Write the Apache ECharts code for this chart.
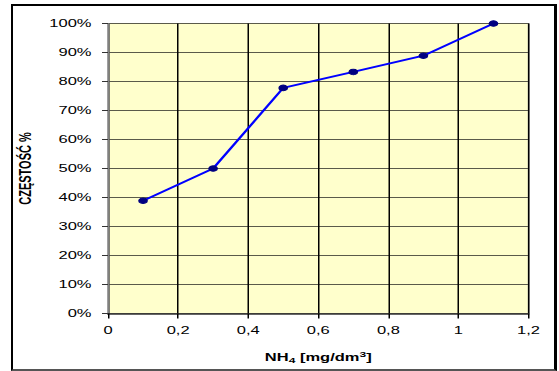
<!DOCTYPE html>
<html>
<head>
<meta charset="utf-8">
<script src="https://cdn.jsdelivr.net/npm/echarts@6/dist/echarts.min.js"></script>
<style>
  html, body { margin: 0; padding: 0; background: #fff; overflow: hidden; }
  #frame {
    position: absolute; left: 11px; top: 4px; width: 541px; height: 363px;
    border-left: 2px solid #000; border-top: 2px solid #000;
    border-right: 3px solid #000; border-bottom: 2px solid #555;
  }
  /* chart laid out narrow, then widened 1.5x horizontally */
  #chart {
    position: absolute; left: 0; top: 0; width: 372.67px; height: 371px;
    transform-origin: 0 0; transform: scaleX(1.5);
  }
</style>
</head>
<body>
<div id="frame"></div>
<div id="chart"></div>
<script>
// NH4 concentration (mg/dm3) and cumulative frequency (%)
const nh4 = [0.1, 0.3, 0.5, 0.7, 0.9, 1.1];
const frequency = [38.9, 50.0, 77.8, 83.3, 88.9, 100.0];

const chart = echarts.init(document.getElementById('chart'), null, { renderer: 'svg' });
const font = 'Liberation Sans, Arial, sans-serif';

chart.setOption({
  animation: false,
  grid: {
    left: 72, right: 20.67, top: 23.5, bottom: 57.5,
    show: true,
    backgroundColor: '#FFFFCC',
    borderColor: '#808080',
    borderWidth: 1
  },
  xAxis: {
    type: 'value',
    min: 0, max: 1.2, interval: 0.2,
    axisLine: { show: true, onZero: false, lineStyle: { color: '#333', width: 1.5 } },
    axisTick: { show: true, inside: false, length: 5, lineStyle: { color: '#000' } },
    axisLabel: {
      margin: 11, color: '#000', fontFamily: font, fontSize: 11,
      formatter: v => String(Math.round(v * 10) / 10).replace('.', ',')
    },
    splitLine: { show: true, lineStyle: { color: '#000', width: 1 } },
    name: '{b|NH}{s|4}{b| [mg/dm}{p|3}{b|]}',
    nameLocation: 'middle',
    nameGap: 37,
    nameTextStyle: {
      rich: {
        b: { fontFamily: font, fontWeight: 'bold', fontSize: 11, color: '#000' },
        s: { fontFamily: font, fontWeight: 'bold', fontSize: 8, color: '#000', verticalAlign: 'bottom', padding: [6, 0, 0, 0] },
        p: { fontFamily: font, fontWeight: 'bold', fontSize: 8, color: '#000', verticalAlign: 'top', padding: [0, 0, 6, 0] }
      }
    }
  },
  yAxis: {
    type: 'value',
    min: 0, max: 100, interval: 10,
    axisLine: { show: true, lineStyle: { color: '#808080', width: 1 } },
    axisTick: { show: true, inside: false, length: 4, lineStyle: { color: '#333' } },
    axisLabel: {
      margin: 11, color: '#000', fontFamily: font, fontSize: 11,
      formatter: v => v + '%'
    },
    splitLine: { show: true, lineStyle: { color: '#5a5a4a', width: 1 } },
    name: 'CZĘSTOŚĆ %',
    nameLocation: 'middle',
    nameGap: 49,
    nameRotate: 90,
    nameTextStyle: { fontFamily: font, fontWeight: 'bold', fontSize: 11, color: '#000' }
  },
  series: [{
    type: 'line',
    data: nh4.map((x, i) => [x, frequency[i]]),
    lineStyle: { color: '#0000FF', width: 1.8 },
    itemStyle: { color: '#000080', borderColor: '#000080' },
    symbol: 'circle',
    symbolSize: 5.5,
    showSymbol: true,
    clip: false
  }]
});
</script>
</body>
</html>
